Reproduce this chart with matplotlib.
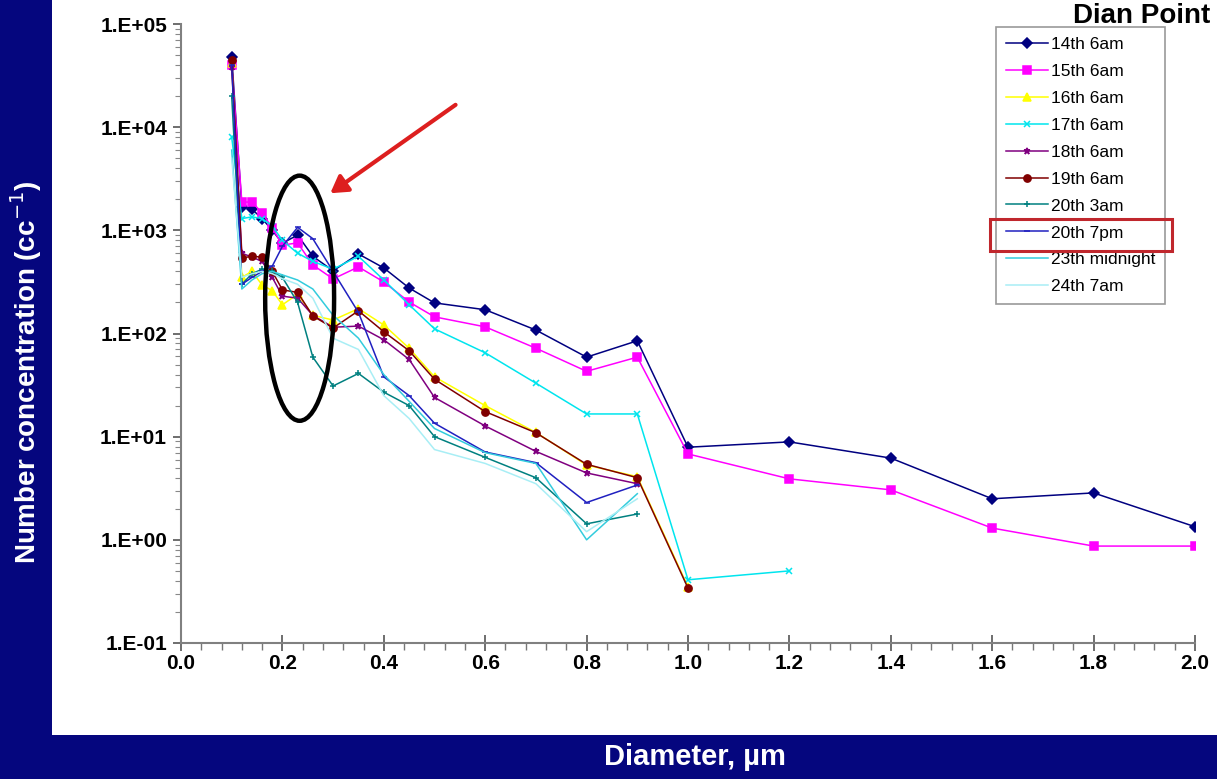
import numpy as np
import matplotlib
matplotlib.use("Agg")
import matplotlib.pyplot as plt
from matplotlib.patches import Rectangle, Ellipse, FancyArrowPatch
from matplotlib.ticker import FixedLocator, LogLocator, NullFormatter, MultipleLocator

plt.rcParams['font.family'] = ['Liberation Sans', 'DejaVu Sans']

# ---- data ----
diam = [0.1, 0.12, 0.14, 0.16, 0.18, 0.2, 0.23, 0.26, 0.3, 0.35, 0.4, 0.45,
        0.5, 0.6, 0.7, 0.8, 0.9, 1.0, 1.2, 1.4, 1.6, 1.8, 2.0]

s14_6am = [48000, 1700, 1600, 1300, 1000, 750, 900, 560, 405, 590, 432, 276,
           198, 170, 108, 59, 85, 7.9, 8.9, 6.2, 2.5, 2.85, 1.34]
s15_6am = [40000, 1880, 1880, 1475, 1055, 720, 755, 462, 338, 442, 316, 202,
           145, 116, 72, 43, 59, 6.8, 3.9, 3.05, 1.3, 0.87, 0.87]
s16_6am = [42000, 350, 400, 295, 260, 190, 240, 150, 135, 174, 121, 72,
           38, 20, 11, 5.3, 4.1, 0.35]
s17_6am = [8000, 1300, 1350, 1300, 1100, 800, 600, 500, 420, 560, 330, 190,
           111, 65, 33, 16.6, 16.6, 0.41, 0.5]
s18_6am = [38000, 600, 550, 500, 350, 230, 220, 150, 115, 118, 87, 56,
           24, 12.7, 7.2, 4.45, 3.5]
s19_6am = [45000, 540, 560, 550, 400, 265, 250, 148, 113, 166, 104, 68,
           36, 17.5, 10.9, 5.4, 4.0, 0.34]
s20_3am = [20000, 300, 380, 420, 400, 350, 200, 59, 31, 41, 27, 20,
           10, 6.3, 4.0, 1.43, 1.78]
s20_7pm = [40000, 300, 350, 400, 450, 700, 1070, 830, 400, 160, 38, 25,
           13.5, 7.1, 5.6, 2.3, 3.4]
s23_mid = [6000, 270, 330, 380, 400, 370, 330, 270, 150, 90, 40, 22,
           12, 7.0, 5.5, 1.0, 2.8]
s24_7am = [5000, 350, 380, 400, 380, 340, 300, 220, 90, 70, 25, 15,
           7.5, 5.5, 3.5, 1.2, 2.5]

labels = ["14th 6am", "15th 6am", "16th 6am", "17th 6am", "18th 6am",
          "19th 6am", "20th 3am", "20th 7pm", "23th midnight", "24th 7am"]
series = [s14_6am, s15_6am, s16_6am, s17_6am, s18_6am,
          s19_6am, s20_3am, s20_7pm, s23_mid, s24_7am]
colors = ["#000080", "#FF00FF", "#FFFF00", "#00E5EE", "#800080",
          "#800000", "#008080", "#2020C0", "#33CCDD", "#A8EEF5"]
markers = ["D", "s", "^", "x", "*", "o", "+", "_", "", ""]
msizes = [5.2, 5.5, 5.5, 4.5, 4.5, 5.2, 4.5, 4.5, 0, 0]

xticks = [0.0, 0.2, 0.4, 0.6, 0.8, 1.0, 1.2, 1.4, 1.6, 1.8, 2.0]
yticks = [1e-1, 1e0, 1e1, 1e2, 1e3, 1e4, 1e5]
ytick_labels = ["1.E-01", "1.E+00", "1.E+01", "1.E+02", "1.E+03", "1.E+04", "1.E+05"]

navy = "#05067E"

fig = plt.figure(figsize=(12.17, 7.79), dpi=100, facecolor="white")
# navy frame strips
fig.patches.append(Rectangle((0, 0), 52 / 1217, 1, transform=fig.transFigure,
                             facecolor=navy, edgecolor="none", zorder=0))
fig.patches.append(Rectangle((0, 0), 1, 44 / 779, transform=fig.transFigure,
                             facecolor=navy, edgecolor="none", zorder=0))

ax = fig.add_axes([181 / 1217, 136 / 779, 1014 / 1217, 619 / 779])
ax.set_facecolor("none")

for lab, ys, c, m, ms in zip(labels, series, colors, markers, msizes):
    xs = diam[:len(ys)]
    ax.plot(xs, ys, color=c, lw=1.1, marker=m if m else None, ms=ms,
            mew=1.1, mfc=c, mec=c, label=lab, zorder=3)

ax.set_yscale("log")
ax.set_xlim(0.0, 2.0)
ax.set_ylim(1e-1, 1e5)
ax.xaxis.set_major_locator(FixedLocator(xticks))
ax.xaxis.set_minor_locator(MultipleLocator(0.04))
ax.set_xticklabels([f"{v:.1f}" for v in xticks])
ax.yaxis.set_major_locator(FixedLocator(yticks))
ax.set_yticklabels(ytick_labels)
ax.yaxis.set_minor_locator(LogLocator(base=10, subs=np.arange(2, 10)))
ax.yaxis.set_minor_formatter(NullFormatter())

for s in ["top", "right"]:
    ax.spines[s].set_visible(False)
for s in ["left", "bottom"]:
    ax.spines[s].set_color("#808080")
    ax.spines[s].set_linewidth(1.5)

ax.tick_params(axis="x", which="major", direction="inout", length=12, width=1.2,
               color="#555555", labelsize=15, pad=2)
ax.tick_params(axis="x", which="minor", direction="out", length=5, width=1,
               color="#777777")
ax.tick_params(axis="y", which="major", direction="out", length=6, width=1.2,
               color="#555555", labelsize=15, pad=4)
ax.tick_params(axis="y", which="minor", direction="out", length=4, width=0.8,
               color="#888888")
for t in ax.get_xticklabels() + ax.get_yticklabels():
    t.set_fontweight("bold")

leg = ax.legend(loc="upper right", bbox_to_anchor=(0.9704, 0.995), fontsize=12.5,
                frameon=True, fancybox=False, edgecolor="#808080",
                labelspacing=0.68, handlelength=2.4, handletextpad=0.2,
                borderpad=0.55, borderaxespad=0)
leg.get_frame().set_linewidth(1.2)

# annotations: ellipse, arrow, highlight box
ax.add_patch(Ellipse((0.117, 0.557), 0.068, 0.396, transform=ax.transAxes,
                     fill=False, edgecolor="black", lw=3.2, zorder=5))
ax.add_patch(FancyArrowPatch((0.273, 0.872), (0.145, 0.724), transform=ax.transAxes,
                             arrowstyle="-|>,head_length=10,head_width=6",
                             color="#DD1F1F", lw=3, zorder=6))
fig.patches.append(Rectangle((990 / 1217, 528 / 779), 182 / 1217, 32 / 779,
                             transform=fig.transFigure, fill=False,
                             edgecolor="#C0272D", lw=2.2, zorder=10))

fig.text(26 / 1217, 0.5225, "Number concentration (cc$^{-1}$)", rotation=90,
         color="white", fontsize=20, fontweight="bold", ha="center", va="center")
fig.text(695 / 1217, 22 / 779, "Diameter, µm", color="white", fontsize=21,
         fontweight="bold", ha="center", va="center")
fig.text(1210 / 1217, 756 / 779, "Dian Point", color="black", fontsize=20,
         fontweight="bold", ha="right", va="baseline")

fig.savefig("out.png", dpi=100, facecolor="white")
